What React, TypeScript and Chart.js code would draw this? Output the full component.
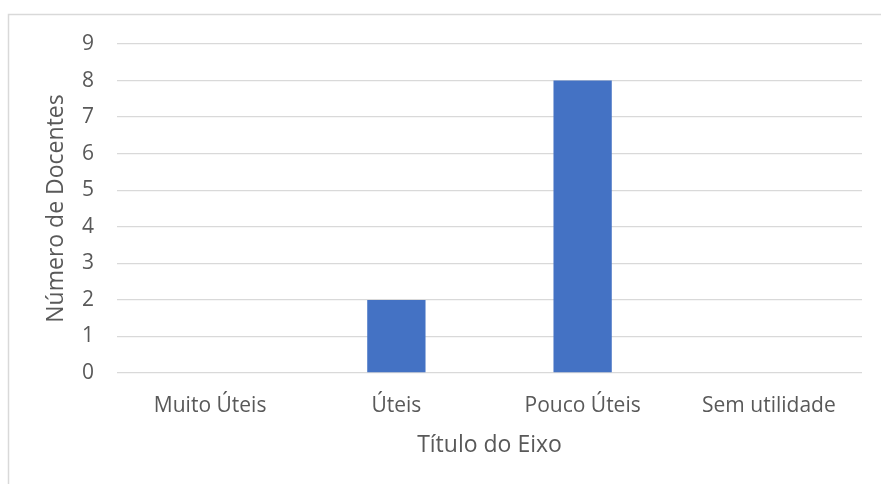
import React, { useEffect, useRef } from "react";
import { Chart, registerables } from "chart.js";

Chart.register(...registerables);

const categories = ["Muito Úteis", "Úteis", "Pouco Úteis", "Sem utilidade"];
const docentes = [0, 2, 8, 0];
const yTitle = "Número de Docentes";
const xTitle = "Título do Eixo";

const TEXT = "#595959";
const GRID = "#d9d9d9";
const FONT = "'Open Sans', sans-serif";

const framePlugin = {
  id: "frame",
  beforeDraw(chart: any) {
    const ctx = chart.ctx;
    ctx.save();
    ctx.fillStyle = "#ffffff";
    ctx.fillRect(0, 0, chart.width, chart.height);
    ctx.strokeStyle = GRID;
    ctx.lineWidth = 1.5;
    ctx.beginPath();
    ctx.moveTo(8.5, chart.height);
    ctx.lineTo(8.5, 14.5);
    ctx.lineTo(chart.width, 14.5);
    ctx.stroke();
    ctx.restore();
  },
};

export default function App() {
  const ref = useRef<HTMLCanvasElement>(null);
  useEffect(() => {
    if (!ref.current) return;
    const chart = new Chart(ref.current, {
      type: "bar",
      data: {
        labels: categories,
        datasets: [
          {
            data: docentes,
            backgroundColor: "#4472c4",
            barPercentage: 0.313,
            categoryPercentage: 1,
          },
        ],
      },
      options: {
        animation: false,
        responsive: false,
        maintainAspectRatio: false,
        layout: { padding: { top: 44, right: 19, left: 0, bottom: 0 } },
        plugins: { legend: { display: false }, tooltip: { enabled: false } },
        scales: {
          x: {
            grid: { display: false, drawTicks: false },
            border: { display: false },
            ticks: { color: TEXT, font: { family: FONT, size: 21 }, padding: 20, maxRotation: 0 },
            title: {
              display: true,
              text: xTitle,
              color: TEXT,
              font: { family: FONT, size: 23 },
              padding: { top: 0, bottom: 25 },
            },
            afterFit(scale: any) {
              scale.height = 111;
            },
          },
          y: {
            min: 0,
            max: 9,
            grid: { color: GRID, lineWidth: 1.3, drawTicks: false },
            border: { display: false },
            ticks: { stepSize: 1, color: TEXT, font: { family: FONT, size: 21 }, padding: 23 },
            title: {
              display: true,
              text: yTitle,
              color: TEXT,
              font: { family: FONT, size: 23 },
              padding: { top: 43, bottom: 0 },
            },
            afterFit(scale: any) {
              scale.width = 117;
            },
          },
        },
      },
      plugins: [framePlugin],
    });
    return () => chart.destroy();
  }, []);
  return (
    <div style={{ position: "absolute", left: 0, top: 0, width: 881, height: 484 }}>
      <canvas ref={ref} width={881} height={484} style={{ display: "block" }} />
    </div>
  );
}
